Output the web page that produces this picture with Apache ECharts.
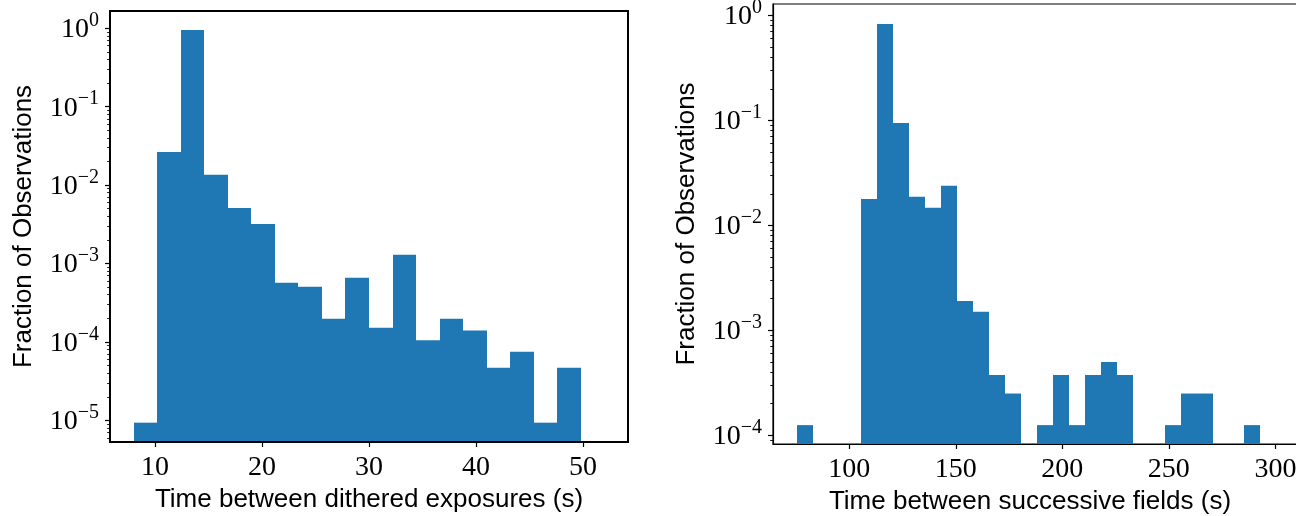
<!DOCTYPE html>
<html>
<head>
<meta charset="utf-8">
<script src="https://cdn.jsdelivr.net/npm/echarts@6/dist/echarts.min.js"></script>
<style>
  html, body { margin: 0; padding: 0; background: #fff; }
  #chart { width: 1296px; height: 516px; }
</style>
</head>
<body>
<div id="chart"></div>
<script>
// Time between dithered exposures: bin edges (s) and fraction of observations per bin
const ditherEdges = [8, 10.2, 12.4, 14.6, 16.8, 19, 21.2, 23.4, 25.6, 27.8, 30,
  32.2, 34.4, 36.6, 38.8, 41, 43.2, 45.4, 47.6, 49.8, 52];
const ditherFractions = [9.35e-6, 0.0265, 0.949, 0.0136, 0.0051, 0.0032, 5.67e-4,
  5.05e-4, 1.98e-4, 6.57e-4, 1.52e-4, 1.29e-3, 1.05e-4, 1.98e-4, 1.40e-4, 4.69e-5,
  7.5e-5, 9.35e-6, 4.69e-5, 0];

// Time between successive fields: bin edges (s) and fraction of observations per bin
const fieldEdges = [75.5, 83, 90.5, 98, 105.5, 113, 120.5, 128, 135.5, 143, 150.5,
  158, 165.5, 173, 180.5, 188, 195.5, 203, 210.5, 218, 225.5, 233, 240.5, 248,
  255.5, 263, 270.5, 278, 285.5, 293];
const fieldFractions = [1.25e-4, 0, 0, 0, 0.0178, 0.830, 0.0945, 0.0187, 0.0147,
  0.0238, 1.9e-3, 1.5e-3, 3.75e-4, 2.5e-4, 0, 1.25e-4, 3.75e-4, 1.25e-4, 3.75e-4,
  5.0e-4, 3.75e-4, 0, 0, 1.25e-4, 2.5e-4, 2.5e-4, 0, 0, 1.25e-4];

// Axis ticks
const ditherXTicks = [10, 20, 30, 40, 50];
const fieldXTicks = [100, 150, 200, 250, 300];
const ditherDecades = [1e-5, 1e-4, 1e-3, 1e-2, 1e-1, 1];
const fieldDecades = [1e-4, 1e-3, 1e-2, 1e-1, 1];

const BLUE = '#1f77b4';
const SERIF = 'Liberation Serif';
const SANS = 'Liberation Sans';

// Minor log ticks at 2..9 times each decade, kept inside the axis range
function minorTicks(decades, lo, hi) {
  const out = [];
  [decades[0] / 10].concat(decades).forEach(d => {
    for (let k = 2; k <= 9; k++) {
      const v = d * k;
      if (v > lo && v < hi) out.push(v);
    }
  });
  return out;
}

// Histogram rows [left edge, right edge, fraction]; empty bins are not drawn on a log axis
function histRows(edges, fractions) {
  const rows = [];
  fractions.forEach((f, i) => { if (f > 0) rows.push([edges[i], edges[i + 1], f]); });
  return rows;
}

function histRenderer(yFloor) {
  return function (params, api) {
    const top = api.coord([api.value(0), api.value(2)]);
    const bot = api.coord([api.value(1), yFloor]);
    const x0 = Math.round(top[0]);
    const x1 = Math.round(bot[0]);
    return {
      type: 'rect',
      shape: { x: x0, y: top[1], width: x1 - x0, height: bot[1] - top[1] },
      style: { fill: BLUE }
    };
  };
}

function powerLabel(v) {
  const e = Math.round(Math.log10(v));
  return '{b|10}{e|' + (e < 0 ? '\u2212' + (-e) : e) + '}';
}

const powerRich = {
  b: { fontFamily: SERIF, fontSize: 28, color: '#000', padding: [5, 0, 0, 0] },
  e: { fontFamily: SERIF, fontSize: 20, color: '#000', verticalAlign: 'top' }
};

const Y1 = [5.3e-6, 1.66];
const Y2 = [8.26e-5, 1.285];

function mainY(grid, range, decades, lineW) {
  return {
    type: 'log', logBase: 10, gridIndex: grid, position: 'left', min: range[0], max: range[1], z: 10,
    name: 'Fraction of Observations', nameLocation: 'middle', nameGap: 73,
    nameTextStyle: { fontFamily: SANS, fontSize: 26, color: '#000' },
    axisLine: { show: true, lineStyle: { color: '#000', width: lineW } },
    axisTick: { show: true, length: 5, customValues: decades, lineStyle: { color: '#000', width: 1.2 } },
    axisLabel: { customValues: decades, formatter: powerLabel, rich: powerRich, margin: 11, padding: [0, 0, 2, 0] },
    splitLine: { show: false }, minorTick: { show: false }
  };
}

function minorY(grid, range, decades) {
  return {
    type: 'log', logBase: 10, gridIndex: grid, position: 'left', offset: 0, min: range[0], max: range[1], z: 10,
    axisLine: { show: false },
    axisTick: { show: true, length: 2.8, customValues: minorTicks(decades, range[0], range[1]), lineStyle: { color: '#000', width: 0.9 } },
    axisLabel: { show: false },
    splitLine: { show: false }
  };
}

function mainX(grid, min, max, ticks, name, lineW, namePad) {
  return {
    type: 'value', gridIndex: grid, min: min, max: max, z: 10,
    name: name, nameLocation: 'middle', nameGap: 42,
    nameTextStyle: { fontFamily: SANS, fontSize: 26, color: '#000', padding: namePad },
    axisLine: { show: true, onZero: false, lineStyle: { color: '#000', width: lineW } },
    axisTick: { show: true, length: 5, customValues: ticks, lineStyle: { color: '#000', width: 1.2 } },
    axisLabel: { customValues: ticks, fontFamily: SERIF, fontSize: 28, color: '#000', margin: 12 },
    splitLine: { show: false }
  };
}

const chart = echarts.init(document.getElementById('chart'), null, { renderer: 'canvas' });
chart.setOption({
  animation: false,
  backgroundColor: '#fff',
  grid: [
    { left: 110, top: 11, width: 518, height: 431, outerBoundsMode: 'none', containLabel: false,
      show: true, borderColor: '#000', borderWidth: 2 },
    { left: 773, top: 4, width: 545, height: 440, outerBoundsMode: 'none', containLabel: false,
      show: true, borderColor: '#000', borderWidth: 1.2 }
  ],
  xAxis: [
    mainX(0, 5.8, 54.2, ditherXTicks, 'Time between dithered exposures (s)', 2, [0, 0, 0, 0]),
    mainX(1, 64.2, 320, fieldXTicks, 'Time between successive fields (s)', 1.2, [0, 31, 0, 0])
  ],
  yAxis: [
    mainY(0, Y1, ditherDecades, 2),
    minorY(0, Y1, ditherDecades),
    mainY(1, Y2, fieldDecades, 1.2),
    minorY(1, Y2, fieldDecades)
  ],
  series: [
    {
      type: 'custom', xAxisIndex: 0, yAxisIndex: 0,
      renderItem: histRenderer(Y1[0]),
      encode: { x: [0, 1], y: 2 },
      data: histRows(ditherEdges, ditherFractions)
    },
    {
      type: 'custom', xAxisIndex: 1, yAxisIndex: 2,
      renderItem: histRenderer(Y2[0]),
      encode: { x: [0, 1], y: 2 },
      data: histRows(fieldEdges, fieldFractions)
    }
  ]
});
</script>
</body>
</html>
